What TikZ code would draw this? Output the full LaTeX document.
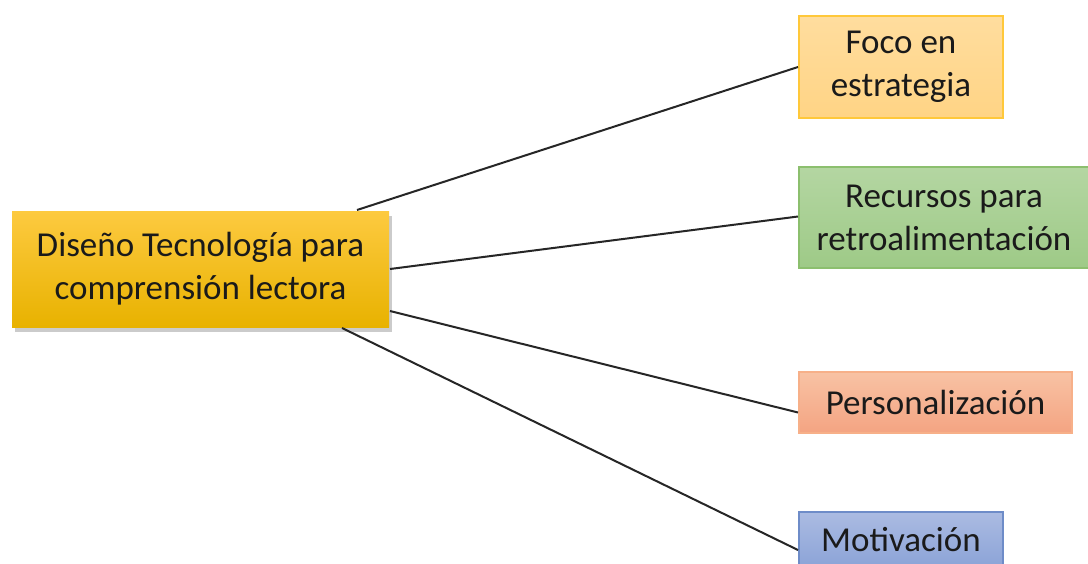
\documentclass[tikz,border=0pt]{standalone}
\usepackage{fontspec}
\setmainfont{Carlito}
\usetikzlibrary{shadows,calc}
\definecolor{txt}{HTML}{1A1A1A}
\definecolor{mainTop}{HTML}{FDCA40}
\definecolor{mainBot}{HTML}{E8B200}
\definecolor{focoTop}{HTML}{FFDD9E}
\definecolor{focoBot}{HTML}{FFD485}
\definecolor{focoLine}{HTML}{FFC83A}
\definecolor{recTop}{HTML}{B4D6A2}
\definecolor{recBot}{HTML}{9ECA87}
\definecolor{recLine}{HTML}{8CBF6E}
\definecolor{perTop}{HTML}{F8C2A4}
\definecolor{perBot}{HTML}{F4A482}
\definecolor{perLine}{HTML}{F7B089}
\definecolor{motTop}{HTML}{ABBBE2}
\definecolor{motBot}{HTML}{8BA3D7}
\definecolor{motLine}{HTML}{6E8CC8}
\tikzset{
  box/.style={rectangle, inner sep=0pt, align=center, text=txt,
    font=\fontsize{35}{43}\selectfont, line width=2pt},
  link/.style={draw=black!85, line width=2pt}
}
\begin{document}
\begin{tikzpicture}[x=1pt,y=-1pt]
\useasboundingbox (0,0) rectangle (1088,563);
\fill[white] (0,0) rectangle (1088,563);
\node[box, minimum width=377pt, minimum height=116pt, top color=mainTop, bottom color=mainBot,
  drop shadow={shadow xshift=3pt, shadow yshift=-5pt, fill=black!45, opacity=0.45}]
  (main) at (200.5,269) {Diseño Tecnología para\\comprensión lectora};
\node[box, minimum width=204pt, minimum height=102pt, top color=focoTop, bottom color=focoBot, draw=focoLine]
  (foco) at (901,67) {Foco en\\estrategia};
\node[box, minimum width=290pt, minimum height=101pt, top color=recTop, bottom color=recBot, draw=recLine]
  (rec) at (944,217.5) {Recursos para\\retroalimentación};
\node[box, minimum width=273pt, minimum height=61pt, top color=perTop, bottom color=perBot, draw=perLine]
  (per) at (935.5,402.5) {Personalización};
\node[box, minimum width=204pt, minimum height=56pt, top color=motTop, bottom color=motBot, draw=motLine]
  (mot) at (901,540) {Motivación};
\draw[link] ([xshift=-33pt]main.north east) -- (foco.west);
\draw[link] (main.east) -- ([yshift=1pt]rec.west);
\draw[link] ([yshift=-42pt]main.east) -- ([yshift=-10pt]per.west);
\draw[link] ([xshift=-48pt]main.south east) -- ([yshift=-10pt]mot.west);
\end{tikzpicture}
\end{document}
